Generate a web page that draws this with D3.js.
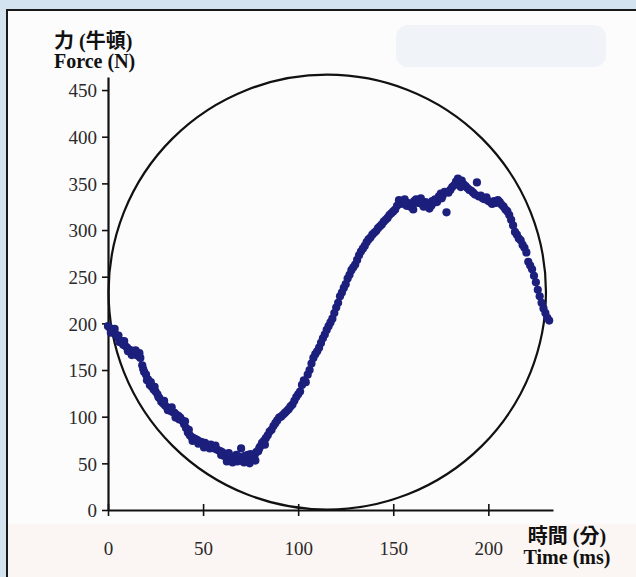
<!DOCTYPE html>
<html>
<head>
<meta charset="utf-8">
<script src="https://cdn.jsdelivr.net/npm/d3@7"></script>
<style>
  html, body { margin: 0; padding: 0; background: #f4f7fa; }
  svg { display: block; }
</style>
</head>
<body>
<svg id="chart" width="636" height="577"></svg>
<script>
// Force trace, [time ms, force N]
const descending = [
  [0,197],[1,195],[2,192],[3,190],[4,188],[5,185],[6,180],[7,181],[8,177],[9,176],
  [10,174],[11,172],[12,171],[13,169],[14,168],[15,166],[16,165],[17,163],[18,155],[19,148],
  [20,145],[21,140],[22,134],[23,132],[24,129],[25,127],[26,124],[27,120],[28,116],[29,114],
  [30,112],[31,110],[32,108],[33,106],[34,105],[35,104],[36,102],[37,101],[38,99],[39,96],
  [40,92],[41,88],[42,83],[43,80],[44,78],[45,77],
  [3.5,194],[8.5,181],[12.5,166],[16.5,168],[20.5,139],[24.5,132],[29.5,117],[35.5,99],[40.5,95],
  [1.5,190],[5.5,187],[10.5,170],[14.5,171],[18.5,151],[22.5,137],[26.5,121],[31.5,107],
  [33.5,110],[37.5,97],[42.5,86],[44.5,74]
];
const trough = [
  [46,76],[47,75],[48,73],[49,73],[50,71],[51,72],[52,70],[53,69],[54,70],[55,67],
  [56,66],[57,65],[58,64],[59,63],[60,62],[61,58],[62,60],[63,56],[64,55],[65,57],
  [66,53],[67,55],[68,52],[69,57],[70,66],[71,54],[72,58],[73,53],[74,55],[75,60],
  [76,56],[77,58],[78,62],[79,63],[80,68],[81,72],[82,74],[83,77],[84,80],[85,84],
  [86,86],[87,90],[88,93],[89,96],[90,99],
  [50.5,67],[56.5,69],[62.5,52],[63.5,61],[67.5,59],[71.5,51],[74.5,50],[77.5,53],
  [47.5,71],[53.5,66],[59.5,59],[65.5,51],[69.5,53],[73.5,59],[79.5,66],[82.5,70]
];
const rising = [
  [91,100],[92,102],[93,104],[94,106],[95,108],[96,111],[97,113],[98,117],[99,121],[100,124],
  [101,127],[102,134],[103,139],[104,137],[105,145],[106,150],[107,157],[108,163],[109,167],[110,170],
  [111,174],[112,179],[113,184],[114,188],[115,193],[116,197],[117,201],[118,205],[119,211],[120,217],
  [121,222],[122,229],[123,233],[124,238],[125,242],[126,248],[127,252],[128,257],[129,260],[130,263],
  [131,268],[132,273],[133,277],[134,280],[135,283],[136,287],[137,290],[138,292],[139,295],[140,297],
  [141,299],[142,302],[143,304],[144,306],[145,309],[146,311],[147,313],[148,316],[149,318],[150,320]
];
const plateau = [
  [151,322],[152,326],[153,332],[154,328],[155,330],[156,333],[157,326],[158,329],[159,325],[160,327],
  [161,331],[162,333],[163,329],[164,331],[165,328],[166,325],[167,330],[168,327],[169,323],[170,326],
  [171,329],[172,333],[173,330],[174,336],[175,339],[176,337],[177,341],[178,319],[179,340],[180,343],
  [181,346],[182,348],[183,352],[184,355],[185,351],[186,353],[187,349],[188,347],[189,345],[190,343],
  [156.5,329],[160.5,322],[164.5,334],[170.5,331],[175.5,334],[185.5,346]
];
const falling = [
  [191,342],[192,340],[193,338],[194,351],[195,336],[196,337],[197,334],[198,333],[199,335],[200,331],
  [201,330],[202,328],[203,331],[204,329],[205,332],[206,330],[207,327],[208,325],[209,322],[210,320],
  [211,316],[212,311],[213,305],[214,298],[215,295],[216,291],[217,289],[218,284],[219,281],[220,276],
  [221,266],[222,262],[223,258],[224,251],[225,244],[226,236],[227,229],[228,222],[229,216],[230,211],
  [231,206],[232,203]
];

const xTicks = [0, 50, 100, 150, 200];
const yTicks = [0, 50, 100, 150, 200, 250, 300, 350, 400, 450];
// overlay circle: centre and radii in data units
const ringCentre = [115.3, 233.5];
const ringRadius = [115, 233];

const svg = d3.select('#chart');

// page background bits from the scan
svg.append('rect').attr('x', 0).attr('y', 0).attr('width', 636).attr('height', 577).attr('fill', '#d3e3f0');
svg.append('rect').attr('x', 7).attr('y', 10).attr('width', 629).attr('height', 567).attr('fill', '#fcfcfd');
svg.append('rect').attr('x', 8).attr('y', 524).attr('width', 628).attr('height', 53).attr('fill', '#fbf5f3');
svg.append('rect').attr('x', 396).attr('y', 25).attr('width', 210).attr('height', 42).attr('rx', 12)
  .attr('fill', '#f0f3f7');
svg.append('path').attr('d', 'M7,577V10H636').attr('fill', 'none').attr('stroke', '#1a1a1a').attr('stroke-width', 2);

const x = d3.scaleLinear().domain([0, 234]).range([108, 553]);
const y = d3.scaleLinear().domain([0, 464]).range([510, 77]);

// circle overlay
svg.append('ellipse')
  .attr('cx', x(ringCentre[0]))
  .attr('cy', y(ringCentre[1]))
  .attr('rx', x(ringCentre[0] + ringRadius[0]) - x(ringCentre[0]))
  .attr('ry', y(0) - y(ringRadius[1]))
  .attr('fill', 'none')
  .attr('stroke', '#111')
  .attr('stroke-width', 2.2);

// axes
const yAxis = svg.append('g')
  .attr('transform', `translate(${x(0)},0)`)
  .call(d3.axisLeft(y).tickValues(yTicks).tickSize(6).tickSizeOuter(0).tickPadding(5));
const xAxis = svg.append('g')
  .attr('transform', `translate(0,${y(0)})`)
  .call(d3.axisBottom(x).tickValues(xTicks).tickSize(6).tickSizeOuter(0).tickPadding(26));

[xAxis, yAxis].forEach(g => {
  g.select('.domain').attr('stroke', '#111').attr('stroke-width', 2.2);
  g.selectAll('.tick line').attr('stroke', '#111').attr('stroke-width', 1.6);
  g.selectAll('.tick text')
    .attr('fill', '#2a2a2a')
    .style('font-family', '"Liberation Serif", "Times New Roman", serif')
    .style('font-size', '19px');
});
xAxis.selectAll('.tick line').attr('y1', -6).attr('y2', 6);
yAxis.selectAll('.tick text').attr('dy', '0.36em');

// data points
const allPoints = descending.concat(trough, rising, plateau, falling);
svg.append('g')
  .selectAll('circle')
  .data(allPoints)
  .join('circle')
  .attr('cx', d => x(d[0]))
  .attr('cy', d => y(d[1]))
  .attr('r', 4.1)
  .attr('fill', '#1c1f7c');

// axis titles
const titleFont = '"Liberation Serif", "Noto Sans CJK TC", serif';
svg.append('text').attr('x', 54).attr('y', 48).text('力 (牛頓)')
  .style('font-family', titleFont).style('font-weight', 'bold').style('font-size', '20px').attr('fill', '#111');
svg.append('text').attr('x', 54).attr('y', 68).text('Force (N)')
  .style('font-family', titleFont).style('font-weight', 'bold').style('font-size', '20px').attr('fill', '#111');
svg.append('text').attr('x', 567).attr('y', 543).attr('text-anchor', 'middle').text('時間 (分)')
  .style('font-family', titleFont).style('font-weight', 'bold').style('font-size', '20px').attr('fill', '#111');
svg.append('text').attr('x', 567).attr('y', 564).attr('text-anchor', 'middle').text('Time (ms)')
  .style('font-family', titleFont).style('font-weight', 'bold').style('font-size', '20px').attr('fill', '#111');
</script>
</body>
</html>
